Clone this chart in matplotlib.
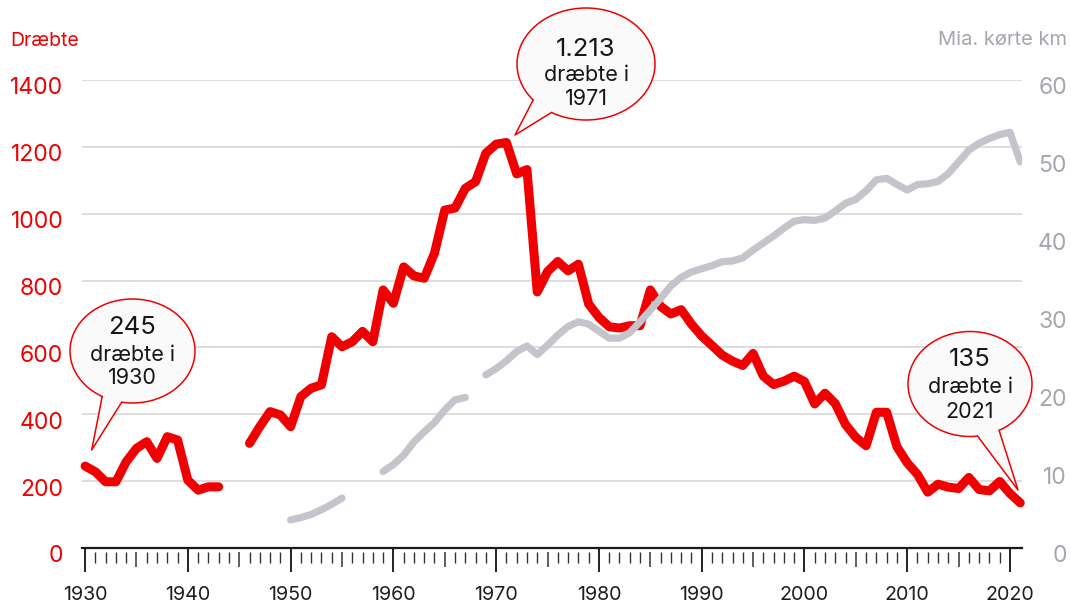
import numpy as np
import matplotlib.pyplot as plt
from matplotlib.patches import Ellipse, Polygon
from matplotlib.lines import Line2D
from matplotlib.transforms import ScaledTranslation

plt.rcParams['font.family'] = ['Inter', 'DejaVu Sans']

W, H = 1071, 607
nan = np.nan

years = np.arange(1930, 2022)

# road deaths per year (left axis)
killed = [245, 228, 198, 198, 258, 298, 318, 268, 333, 323,
          203, 173, 183, 183, nan, nan, 313, 363, 408, 398,
          363, 453, 478, 488, 632, 602, 617, 648, 617, 772,
          732, 841, 814, 807, 882, 1011, 1017, 1076, 1096, 1181,
          1208, 1213, 1119, 1132, 766, 827, 857, 829, 849, 730,
          690, 662, 658, 665, 665, 772, 723, 700, 713, 670,
          634, 606, 577, 559, 546, 582, 514, 489, 499, 514,
          498, 431, 463, 432, 369, 331, 306, 406, 406, 303,
          255, 220, 167, 191, 182, 178, 211, 175, 171, 199,
          163, 135]

# billion km driven (right axis)
km = [nan] * 20 + [
    3.6, 3.9, 4.3, 4.9, 5.6, 6.4, nan, nan, nan, 9.8,
    10.7, 11.9, 13.6, 14.9, 16.1, 17.7, 19.0, 19.3, nan, 22.2,
    23.0, 24.0, 25.2, 25.9, 24.8, 26.0, 27.3, 28.4, 29.0, 28.7,
    27.8, 26.9, 26.9, 27.6, 29.0, 30.5, 32.0, 33.6, 34.7, 35.4,
    35.8, 36.2, 36.7, 36.8, 37.2, 38.2, 39.1, 40.0, 41.0, 41.9,
    42.1, 42.0, 42.3, 43.2, 44.2, 44.7, 45.8, 47.2, 47.4, 46.6,
    45.9, 46.6, 46.7, 47.0, 48.0, 49.5, 51.0, 51.9, 52.5, 53.0,
    53.3, 49.5]

left_ticks = np.arange(0, 1401, 200)
right_ticks = np.arange(0, 61, 10)
decades = np.arange(1930, 2021, 10)
fives = np.arange(1935, 2021, 10)
ones = [y for y in range(1931, 2020) if y % 5 != 0]

bubble_texts = [["245", "dræbte i", "1930"],
                ["1.213", "dræbte i", "1971"],
                ["135", "dræbte i", "2021"]]

RED = '#f00000'
GREY = '#c4c4ca'
GREY_TXT = '#a6a6ae'
FILL = '#fafafa'

fig = plt.figure(figsize=(W / 100, H / 100), dpi=100)
ax = fig.add_axes([82 / W, 1 - 548 / H, 940 / W, 468 / H])

ax.plot(years, killed, color=RED, lw=6.5, solid_capstyle='round',
        solid_joinstyle='round', clip_on=False, zorder=3)
ax.set_xlim(1929.7, 2021.17)
ax.set_ylim(0, 1400)
ax.set_yticks(left_ticks)
ax.set_xticks(decades)
ax.grid(axis='y', color='#d8d8d8', lw=1.2)
ax.set_axisbelow(True)
for s in ['top', 'right', 'left']:
    ax.spines[s].set_visible(False)
ax.spines['bottom'].set_color('#1a1a1a')
ax.spines['bottom'].set_linewidth(1.6)
ax.spines['bottom'].set_zorder(4)
ax.tick_params(axis='y', length=0, pad=13.5, labelsize=16.5, labelcolor=RED)
ax.tick_params(axis='x', length=0, pad=27, labelsize=14.2, labelcolor='#1e1e1e')

# tick marks under the axis
tr = ax.get_xaxis_transform()
hp = 468.0
ax.vlines(decades, -24 / hp, 0, transform=tr, color='#222222', lw=1.4, clip_on=False)
ax.vlines(fives, -19 / hp, -4 / hp, transform=tr, color='#333333', lw=1.1, clip_on=False)
ax.vlines(ones, -15 / hp, -4 / hp, transform=tr, color='#333333', lw=1.0, clip_on=False)

ax2 = ax.twinx()
ax2.plot(years, km, color=GREY, lw=5.2, solid_capstyle='round',
         solid_joinstyle='round', zorder=3)
ax2.set_ylim(0, 60)
ax2.set_yticks(right_ticks)
for s in ax2.spines.values():
    s.set_visible(False)
ax2.tick_params(axis='y', length=0, pad=32.4, labelsize=16.5, labelcolor=GREY_TXT)

down = ScaledTranslation(0, -0.06, fig.dpi_scale_trans)
for lab in ax.get_yticklabels():
    lab.set_transform(lab.get_transform() + down)
for lab in ax2.get_yticklabels():
    lab.set_transform(lab.get_transform() + down)
    lab.set_horizontalalignment('right')

fig.text(10 / W, 1 - 41 / H, 'Dræbte', color=RED, fontsize=14, ha='left', va='center')
fig.text(1067 / W, 1 - 40 / H, 'Mia. kørte km', color=GREY_TXT, fontsize=14.5,
         ha='right', va='center')


def px(x, y):
    return (x / W, 1 - y / H)


def bubble(cx, cy, w, h, a1, a2, tip, lines, ty):
    fig.add_artist(Ellipse(px(cx, cy), w / W, h / H, transform=fig.transFigure,
                           facecolor=FILL, edgecolor=RED, lw=1.1, zorder=5))
    b1 = (cx + w / 2 * np.cos(np.radians(a1)), cy + h / 2 * np.sin(np.radians(a1)))
    b2 = (cx + w / 2 * np.cos(np.radians(a2)), cy + h / 2 * np.sin(np.radians(a2)))
    fig.add_artist(Polygon([px(*b1), px(*tip), px(*b2), px(cx, cy)], closed=True,
                           transform=fig.transFigure, facecolor=FILL,
                           edgecolor='none', zorder=6))
    pts = [px(*b1), px(*tip), px(*b2)]
    fig.add_artist(Line2D([p[0] for p in pts], [p[1] for p in pts],
                          transform=fig.transFigure, color=RED, lw=1.1, zorder=7))
    sizes = [18.5, 15.5, 15.5]
    for s, yy, fs in zip(lines, ty, sizes):
        fig.text(cx / W, 1 - yy / H, s, ha='center', va='center', fontsize=fs,
                 color='#161616', zorder=8)


bubble(132.5, 351, 125, 104, 119, 100, (91.7, 450), bubble_texts[0], [327, 355, 378])
bubble(586, 64, 138, 112, 140, 120, (515, 135), bubble_texts[1], [49, 75, 99])
bubble(970, 384, 124, 105, 83, 62, (1018, 490), bubble_texts[2], [360, 387, 412])

fig.savefig('out.png', dpi=100, facecolor='white')
